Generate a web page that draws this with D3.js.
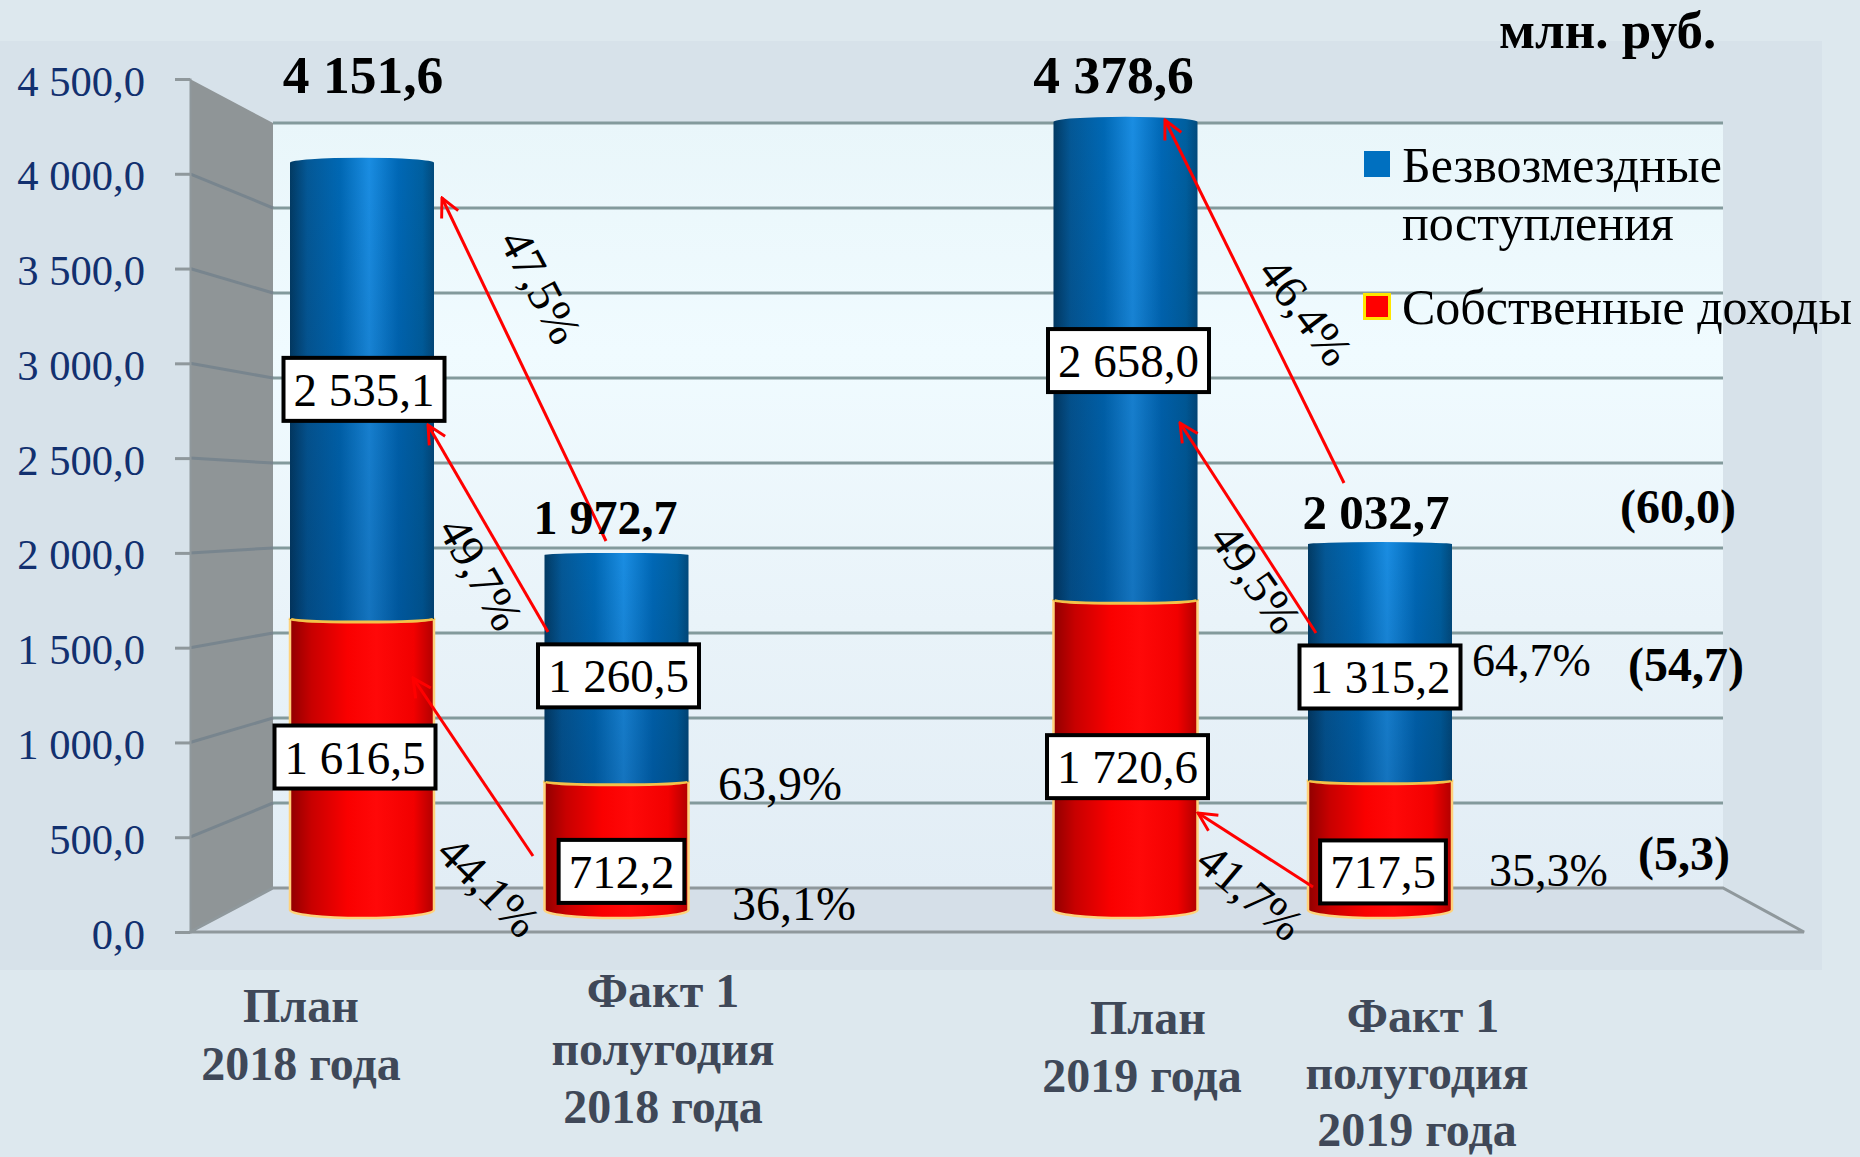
<!DOCTYPE html>
<html>
<head>
<meta charset="utf-8">
<script src="https://cdn.jsdelivr.net/npm/d3@7"></script>
<style>
  html, body { margin: 0; padding: 0; background: #dde8ee; }
  svg { display: block; }
  text { font-family: "Liberation Serif", serif; }
</style>
</head>
<body>
<div id="chart"></div>
<script>
// values
const categories = ['plan2018', 'fact2018', 'gap', 'plan2019', 'fact2019'];
const barCategories = ['plan2018', 'fact2018', 'plan2019', 'fact2019'];
const ownIncome = [1616.5, 712.2, 1720.6, 717.5];
const grants = [2535.1, 1260.5, 2658.0, 1315.2];
const totals = [4151.6, 1972.7, 4378.6, 2032.7];
const yTicks = [0, 500, 1000, 1500, 2000, 2500, 3000, 3500, 4000, 4500];
const categoryLines = [
    ['План', '2018 года'],
    ['Факт 1', 'полугодия', '2018 года'],
    ['План', '2019 года'],
    ['Факт 1', 'полугодия', '2019 года']
];
const legendLabels = [['Безвозмездные', 'поступления'], ['Собственные доходы']];
const slopeLabels = ['47,5%', '49,7%', '44,1%', '46,4%', '49,5%', '41,7%'];
const shareLabels = ['63,9%', '36,1%', '64,7%', '35,3%'];
const deltaLabels = ['(60,0)', '(54,7)', '(5,3)'];

// annotation placement (pixels)
const slopePos = [[540, 287, 62], [480, 574, 60], [488, 887, 45], [1305, 312, 53], [1255, 579, 55], [1250, 893, 40]];
const sharePos = [[718, 800, 48], [732, 920, 48], [1472, 676, 46], [1489, 886, 46]];
const deltaPos = [[1678, 523], [1686, 681], [1684, 870]];
const arrowPos = [
    [606, 541, 442, 198], [548, 632, 428, 425], [533, 856, 413, 678],
    [1344, 483, 1165, 120], [1316, 633, 1180, 423], [1313, 887, 1198, 813]
];
// x, first baseline, line step, shift of the first line
const categoryPos = [[301, 1022, 58, 0], [663, 1007, 58, 0], [1142, 1034, 58, 6], [1417, 1032, 57, 6]];
const boxDx = { own: [-7, 5, 2, 3], grants: [2, 2, 3, 0] };
const boxDy = { own: [-8, 25, 11, 26], grants: [-2, 7, -1, 14] };
const totalDx = [0, -12, -13, -5];
const totalSize = [53.5, 48, 53.5, 49];
const totalBaseline = [93, 534, 93, 529];
const capRy = [5, 2, 5, 2];

const width = 1860;
const height = 1157;
const fmt = d3.formatLocale({ decimal: ',', thousands: ' ', grouping: [3], currency: ['', ''] }).format(',.1f');

const svg = d3.select('#chart').append('svg')
    .attr('width', width)
    .attr('height', height)
    .style('background-color', '#dde8ee');

// three planes of the fake 3D box: front edge, bars, back wall
const yFront = d3.scaleLinear().domain([0, 4500]).range([932, 79]);
const yBack = d3.scaleLinear().domain([0, 4500]).range([888, 123]);
const yBar = d3.scaleLinear().domain([0, 4500]).range([910, 100]);
const x = d3.scalePoint().domain(categories).range([362, 1380]);

const wallLeft = 273, wallRight = 1723, axisX = 190, floorRight = 1804;
const barR = 72;

const defs = svg.append('defs');

function hGradient(id, stops) {
    const g = defs.append('linearGradient').attr('id', id);
    stops.forEach(s => g.append('stop').attr('offset', s[0]).attr('stop-color', s[1]));
}
hGradient('blueBar', [['0%', '#023a63'], ['12%', '#045896'], ['35%', '#0068b4'], ['55%', '#1a8de2'], ['75%', '#0068b6'], ['92%', '#005f9f'], ['100%', '#024a7c']]);
hGradient('redBar', [['0%', '#900000'], ['15%', '#c80000'], ['40%', '#fa0000'], ['60%', '#ff0808'], ['86%', '#f20000'], ['100%', '#b00000']]);

const wallGrad = defs.append('linearGradient').attr('id', 'wall').attr('x2', 0).attr('y2', 1);
[['0%', '#e9f6fa'], ['30%', '#f0fbff'], ['65%', '#e9f3f9'], ['100%', '#e2edf5']].forEach(s =>
    wallGrad.append('stop').attr('offset', s[0]).attr('stop-color', s[1]));

const shade = defs.append('linearGradient').attr('id', 'shade').attr('x2', 0).attr('y2', 1);
shade.append('stop').attr('offset', '0%').attr('stop-color', '#001a40').attr('stop-opacity', 0);
shade.append('stop').attr('offset', '100%').attr('stop-color', '#001a40').attr('stop-opacity', 0.22);

const marker = defs.append('marker')
    .attr('id', 'head')
    .attr('viewBox', '0 0 12 12')
    .attr('refX', 11).attr('refY', 6)
    .attr('markerWidth', 22).attr('markerHeight', 22)
    .attr('markerUnits', 'userSpaceOnUse')
    .attr('orient', 'auto');
marker.append('path').attr('d', 'M1,1 L11,6 L1,11').attr('fill', 'none').attr('stroke', '#ff0000').attr('stroke-width', 1.6);

// background panel and walls
svg.append('rect').attr('x', 0).attr('y', 41).attr('width', 1822).attr('height', 929).attr('fill', '#d7e2ea');

svg.append('rect')
    .attr('x', wallLeft).attr('y', yBack(4500))
    .attr('width', wallRight - wallLeft).attr('height', yBack(0) - yBack(4500))
    .attr('fill', 'url(#wall)');

svg.append('polygon')
    .attr('points', [[axisX, yFront(4500)], [wallLeft, yBack(4500)], [wallLeft, yBack(0)], [axisX, yFront(0)]].join(' '))
    .attr('fill', '#8f9597');

svg.append('polygon')
    .attr('points', [[axisX, yFront(0)], [wallLeft, yBack(0)], [wallRight, yBack(0)], [floorRight, yFront(0)]].join(' '))
    .attr('fill', '#d5dfe8')
    .attr('stroke', '#8f989c')
    .attr('stroke-width', 3);

// gridlines, wall part then side part
svg.append('g').selectAll('line.grid')
    .data(yTicks.slice(1))
    .enter().append('line')
    .attr('x1', wallLeft).attr('x2', wallRight)
    .attr('y1', d => yBack(d)).attr('y2', d => yBack(d))
    .attr('stroke', '#839a9c')
    .attr('stroke-width', 3);

svg.append('g').selectAll('line.side')
    .data(yTicks.slice(1, -1))
    .enter().append('line')
    .attr('x1', axisX).attr('x2', wallLeft)
    .attr('y1', d => yFront(d)).attr('y2', d => yBack(d))
    .attr('stroke', '#78858e')
    .attr('stroke-width', 3);

// y axis
const axis = d3.axisLeft(yFront).tickValues(yTicks).tickFormat(fmt).tickSize(15).tickPadding(30);
const axisG = svg.append('g').attr('transform', `translate(${axisX},0)`).call(axis);
axisG.select('.domain').attr('stroke', '#8f989c').attr('stroke-width', 2);
axisG.selectAll('.tick line').attr('stroke', '#8f989c').attr('stroke-width', 3);
axisG.selectAll('.tick text')
    .attr('dy', 16)
    .attr('fill', '#12306f')
    .style('font-family', '"Liberation Serif", serif')
    .style('font-size', '42.6px');

// cylinder segment, sweep flag 1 means the arc bulges up on the way right and down on the way back
function segment(cx, topY, bottomY, topRy, bottomRy) {
    const l = cx - barR, r = cx + barR;
    return `M${l},${topY} A${barR},${topRy} 0 0 1 ${r},${topY} L${r},${bottomY} A${barR},${bottomRy} 0 0 1 ${l},${bottomY} Z`;
}

const bars = barCategories.map((c, i) => ({
    cx: x(c),
    own: ownIncome[i],
    total: totals[i],
    cap: capRy[i]
}));

// red parts
svg.append('g').selectAll('path')
    .data(bars)
    .enter().append('path')
    .attr('d', d => segment(d.cx, yBar(d.own), yBar(0), 0.01, 8))
    .attr('fill', 'url(#redBar)')
    .attr('stroke', '#ffd27a')
    .attr('stroke-width', 2.5);

// blue parts
const blue = svg.append('g').selectAll('g')
    .data(bars)
    .enter().append('g');
blue.append('path')
    .attr('d', d => segment(d.cx, yBar(d.total), yBar(d.own), d.cap, 3))
    .attr('fill', 'url(#blueBar)');
blue.append('path')
    .attr('d', d => segment(d.cx, yBar(d.total), yBar(d.own), d.cap, 3))
    .attr('fill', 'url(#shade)');

// yellow seam between parts
svg.append('g').selectAll('path')
    .data(bars)
    .enter().append('path')
    .attr('d', d => `M${d.cx - barR},${yBar(d.own)} A${barR},3 0 0 0 ${d.cx + barR},${yBar(d.own)}`)
    .attr('fill', 'none')
    .attr('stroke', '#f3c24a')
    .attr('stroke-width', 3);

// arrows
svg.append('g').selectAll('line')
    .data(arrowPos)
    .enter().append('line')
    .attr('x1', d => d[0]).attr('y1', d => d[1])
    .attr('x2', d => d[2]).attr('y2', d => d[3])
    .attr('stroke', '#ff0000')
    .attr('stroke-width', 3)
    .attr('marker-end', 'url(#head)');

// value boxes
function addBoxes(values, bottoms, dx, dy) {
    values.forEach((v, i) => {
        const cx = x(barCategories[i]) + dx[i];
        const cy = yBar(bottoms[i] + v / 2) + dy[i];
        const g = svg.append('g');
        const rect = g.append('rect');
        const t = g.append('text')
            .attr('x', cx).attr('y', cy + 17)
            .attr('text-anchor', 'middle')
            .style('font-size', '47px')
            .attr('fill', '#000')
            .text(fmt(v));
        const w = t.node().getComputedTextLength() + 20;
        rect.attr('x', cx - w / 2).attr('y', cy - 31)
            .attr('width', w).attr('height', 63)
            .attr('fill', '#fff')
            .attr('stroke', '#000')
            .attr('stroke-width', 4);
    });
}
addBoxes(ownIncome, [0, 0, 0, 0], boxDx.own, boxDy.own);
addBoxes(grants, ownIncome, boxDx.grants, boxDy.grants);

// totals over the bars
svg.append('g').selectAll('text')
    .data(totals)
    .enter().append('text')
    .attr('x', (d, i) => x(barCategories[i]) + totalDx[i] + 1)
    .attr('y', (d, i) => totalBaseline[i])
    .attr('text-anchor', 'middle')
    .attr('font-weight', 'bold')
    .style('font-size', (d, i) => totalSize[i] + 'px')
    .attr('fill', '#000')
    .text(d => fmt(d));

// rotated shares beside the arrows
svg.append('g').selectAll('text')
    .data(slopeLabels)
    .enter().append('text')
    .attr('transform', (d, i) => `translate(${slopePos[i][0]},${slopePos[i][1]}) rotate(${slopePos[i][2]})`)
    .attr('text-anchor', 'middle')
    .attr('dy', 15)
    .style('font-size', '47px')
    .attr('fill', '#000')
    .text(d => d);

svg.append('g').selectAll('text')
    .data(shareLabels)
    .enter().append('text')
    .attr('x', (d, i) => sharePos[i][0])
    .attr('y', (d, i) => sharePos[i][1])
    .style('font-size', (d, i) => sharePos[i][2] + 'px')
    .attr('fill', '#000')
    .text(d => d);

svg.append('g').selectAll('text')
    .data(deltaLabels)
    .enter().append('text')
    .attr('x', (d, i) => deltaPos[i][0])
    .attr('y', (d, i) => deltaPos[i][1])
    .attr('text-anchor', 'middle')
    .attr('font-weight', 'bold')
    .style('font-size', '48px')
    .attr('fill', '#000')
    .text(d => d);

// unit
svg.append('text')
    .attr('x', 1499).attr('y', 48)
    .attr('font-weight', 'bold')
    .style('font-size', '53px')
    .attr('fill', '#000')
    .text('млн. руб.');

// legend
svg.append('rect').attr('x', 1364).attr('y', 151).attr('width', 26).attr('height', 26).attr('fill', '#0070c0');
svg.append('rect').attr('x', 1364.5).attr('y', 294.5).attr('width', 25).attr('height', 24)
    .attr('fill', '#ff0000').attr('stroke', '#ffe600').attr('stroke-width', 3);
[[182, legendLabels[0][0]], [240, legendLabels[0][1]], [324, legendLabels[1][0]]].forEach(l => {
    svg.append('text')
        .attr('x', 1402).attr('y', l[0])
        .style('font-size', '50px')
        .attr('fill', '#000')
        .text(l[1]);
});

// category labels
categoryLines.forEach((lines, i) => {
    const p = categoryPos[i];
    const t = svg.append('text')
        .attr('text-anchor', 'middle')
        .attr('font-weight', 'bold')
        .style('font-size', '48px')
        .attr('fill', '#3f4858');
    lines.forEach((line, j) => {
        t.append('tspan')
            .attr('x', p[0] + (j === 0 ? p[3] : 0))
            .attr('y', p[1] + j * p[2])
            .text(line);
    });
});
</script>
</body>
</html>
